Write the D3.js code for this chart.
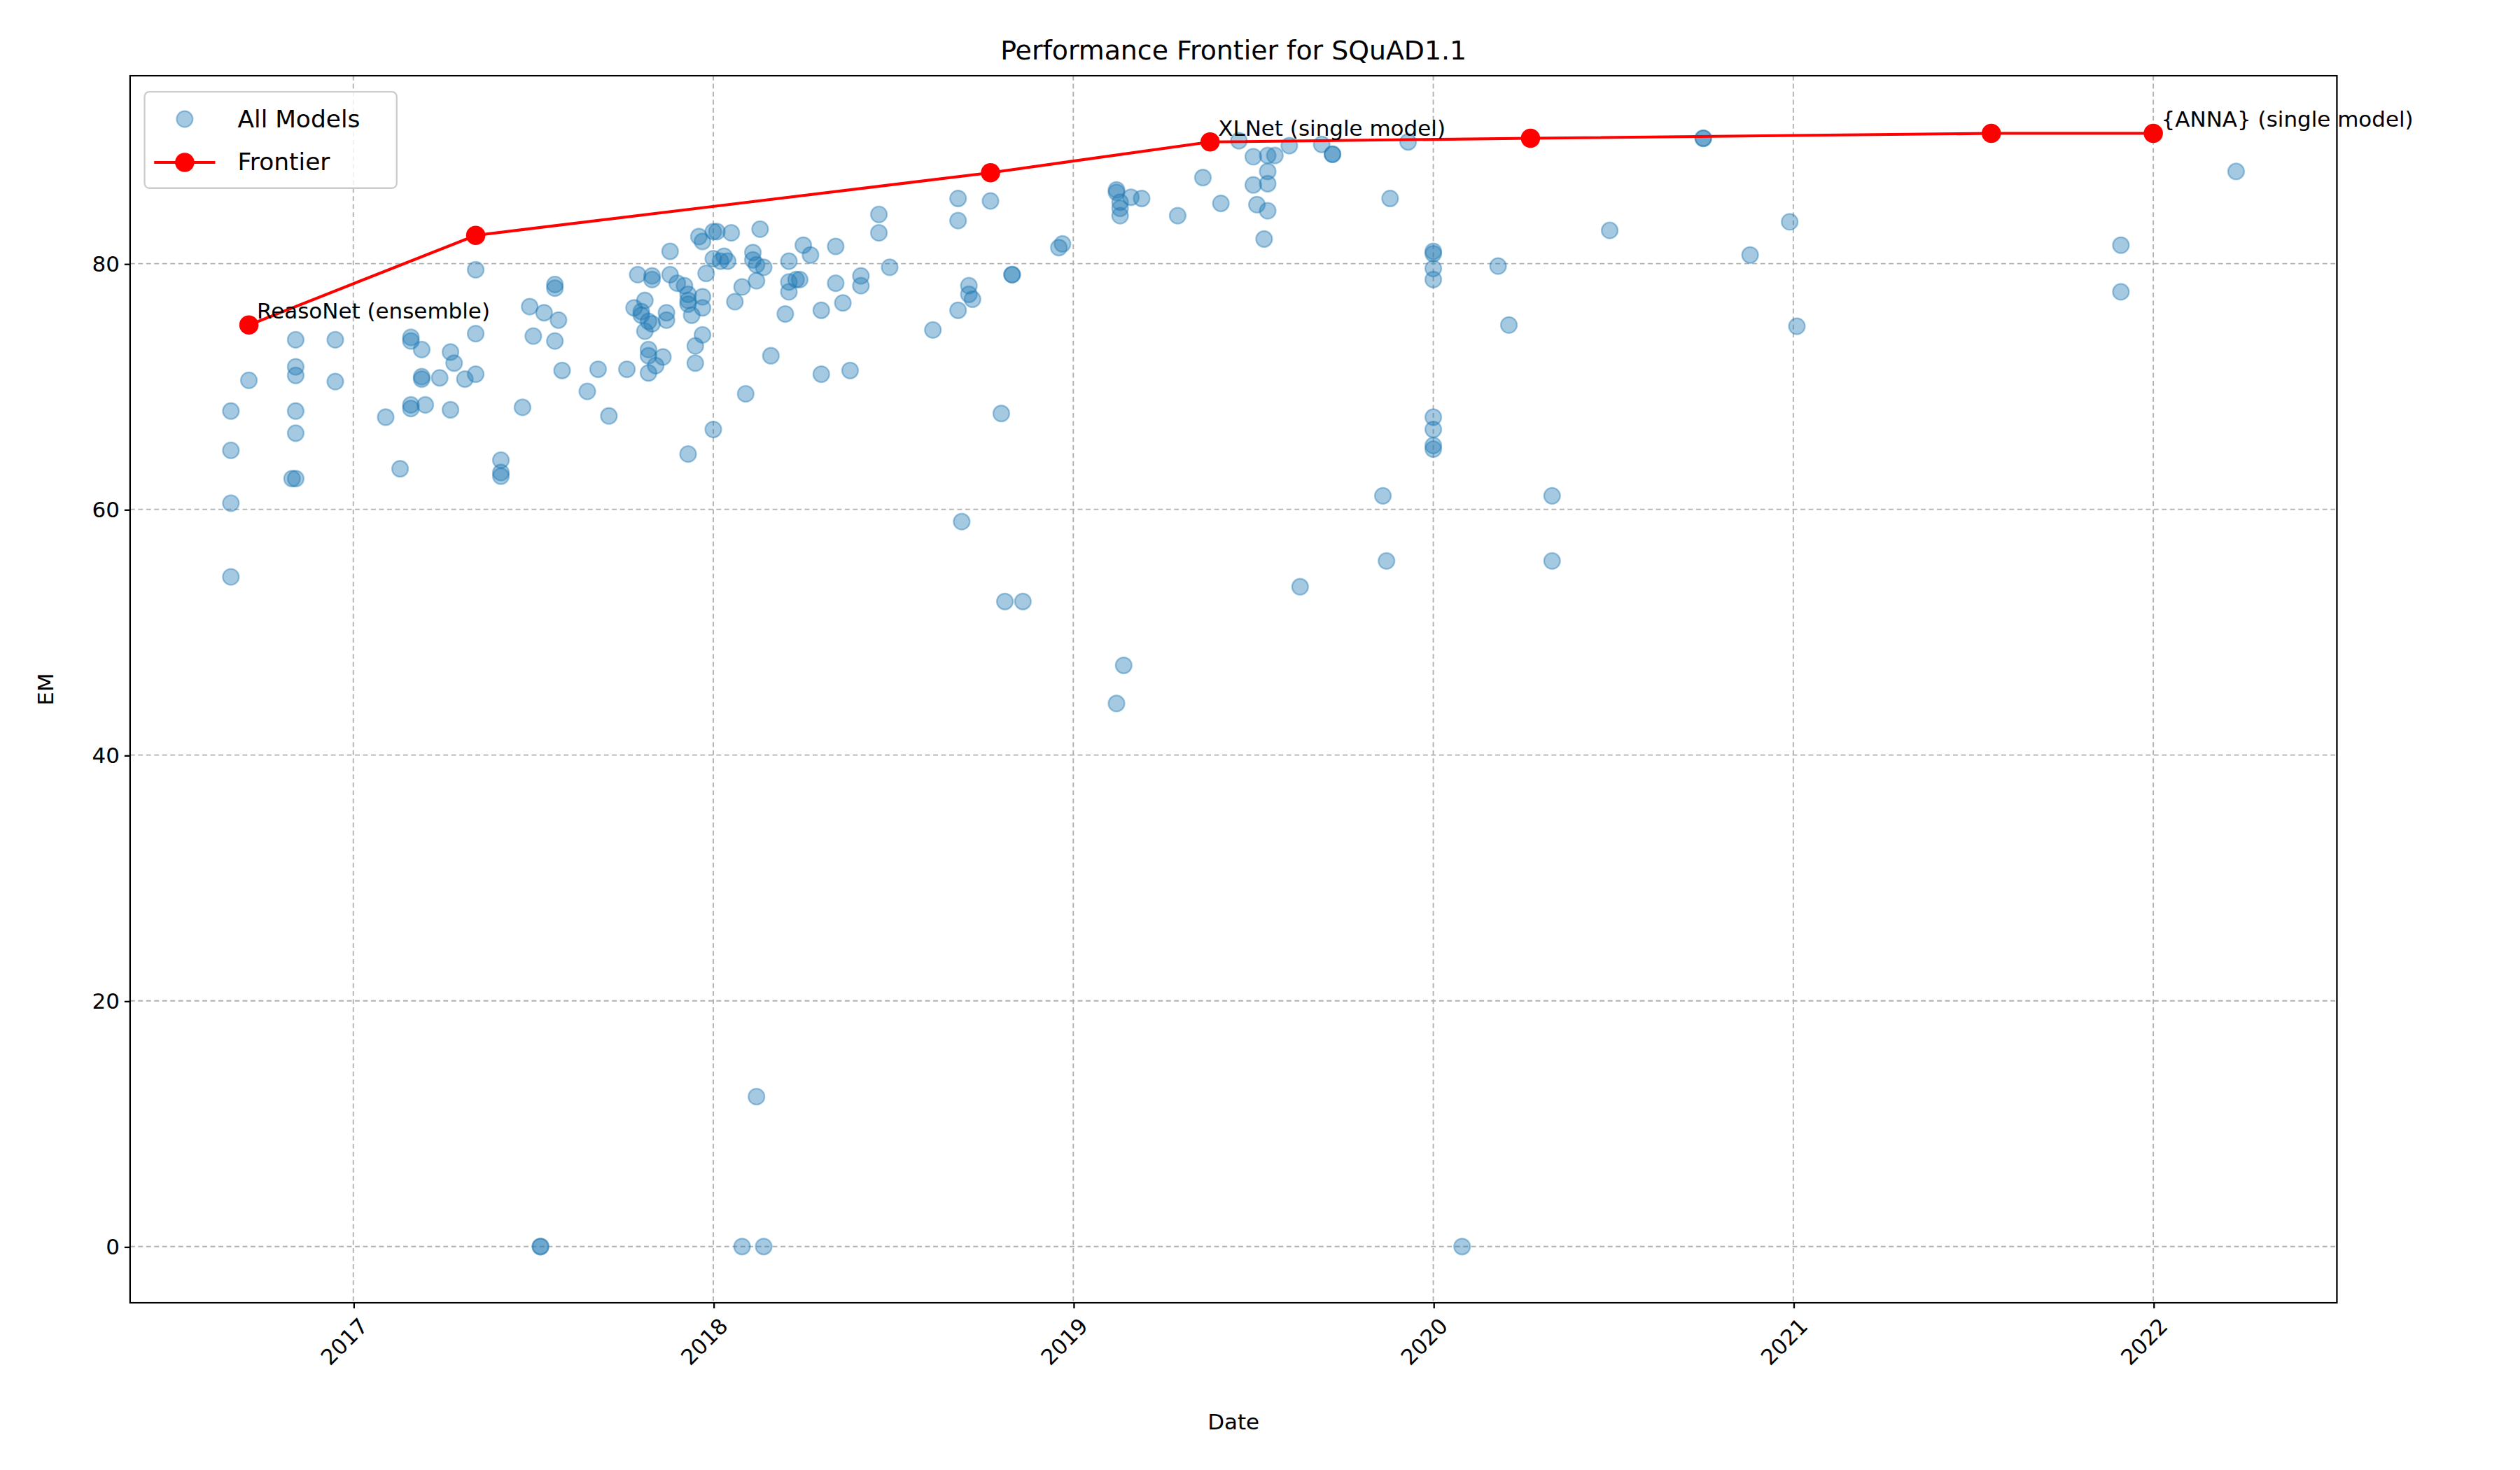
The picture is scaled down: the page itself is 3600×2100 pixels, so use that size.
<!DOCTYPE html>
<html><head><meta charset="utf-8">
<script src="https://cdn.jsdelivr.net/npm/d3@7"></script>
<style>
body{margin:0;background:#fff}
text{font-family:"DejaVu Sans",sans-serif;fill:#000}
</style></head><body>
<svg id="c" width="3600" height="2100" viewBox="0 0 1569 915"></svg>
<script>
// all models: decimal year, EM
var modelDates = [2016.66,2016.66,2016.66,2016.66,2016.71,
 2016.84,2016.84,2016.84,2016.84,2016.84,2016.83,2016.84,2016.95,2016.95,
 2017.09,2017.13,2017.16,2017.16,2017.16,2017.16,2017.19,2017.19,2017.19,2017.20,2017.24,2017.27,2017.28,2017.27,2017.31,2017.34,2017.34,2017.34,2017.41,2017.41,2017.41,2017.47,2017.49,2017.50,2017.53,2017.56,2017.56,2017.56,2017.57,2017.58,2017.52,2017.52,
 2017.65,2017.68,2017.71,2017.76,2017.78,2017.79,2017.80,2017.80,2017.81,2017.81,2017.82,2017.82,2017.82,2017.82,2017.83,2017.83,2017.83,2017.84,2017.86,2017.87,2017.87,2017.88,2017.88,2017.90,2017.92,2017.93,2017.93,2017.93,2017.94,2017.95,2017.95,2017.93,2017.96,2017.97,2017.97,2017.97,2017.97,2017.98,2018.00,2018.00,2018.01,2018.00,2018.02,2018.03,2018.04,2018.05,2018.06,2018.08,2018.09,2018.11,2018.11,2018.12,2018.12,2018.13,2018.14,2018.16,2018.12,2018.08,2018.14,
 2018.20,2018.21,2018.21,2018.21,2018.23,2018.24,2018.25,2018.27,2018.30,2018.30,2018.34,2018.34,2018.36,2018.38,2018.41,2018.41,2018.46,2018.46,2018.49,2018.61,2018.68,2018.68,2018.68,2018.69,2018.71,2018.71,2018.72,2018.77,2018.80,2018.81,2018.86,2018.83,2018.83,2018.96,2018.97,
 2019.12,2019.12,2019.13,2019.13,2019.13,2019.12,2019.14,2019.16,2019.19,2019.29,2019.36,2019.41,2019.46,2019.50,2019.50,2019.51,2019.53,2019.54,2019.54,2019.54,2019.54,2019.56,2019.60,2019.63,2019.69,2019.72,2019.72,2019.86,2019.87,2019.88,2019.93,
 2020.00,2020.00,2020.00,2020.00,2020.00,2020.00,2020.00,2020.00,2020.08,2020.18,2020.21,2020.33,2020.33,2020.49,2020.75,2020.75,2020.88,2020.99,2021.01,2021.91,2021.91,2022.23];
var modelEM = [68,64.8,60.5,54.5,70.5,
 73.8,71.6,70.9,68,66.2,62.5,62.5,73.8,70.4,
 67.5,63.3,74,73.7,68.5,68.2,73,70.8,70.6,68.5,70.7,72.8,71.9,68.1,70.6,79.5,74.3,71,64,63,62.7,68.3,76.5,74.1,76,78,78.3,73.7,75.4,71.3,0,0,
 69.6,71.4,67.6,71.4,76.4,79.1,76.1,75.8,77,74.5,75.3,73,71.1,72.5,79,78.7,75.1,71.7,72.4,76,75.4,81,79.1,78.4,78.2,77,77.5,76.7,75.8,73.3,71.9,64.5,82.2,81.8,77.3,76.4,74.2,79.2,80.4,82.6,82.6,66.5,80.2,80.6,80.2,82.5,76.9,78.1,69.4,80.3,80.9,79.9,78.6,82.8,79.7,72.5,12.2,0,0,
 75.9,77.7,78.5,80.2,78.7,78.7,81.5,80.7,71,76.2,81.4,78.4,76.8,71.3,79,78.2,84,82.5,79.7,74.6,85.3,83.5,76.2,59,78.2,77.5,77.1,85.1,67.8,52.5,52.5,79.1,79.1,81.3,81.6,
 86,85.8,85,84.5,83.9,44.2,47.3,85.4,85.3,83.9,87,84.9,90,88.7,86.4,84.8,82,88.8,87.5,86.5,84.3,88.8,89.6,53.7,89.7,88.9,88.9,61.1,55.8,85.3,89.9,
 81,80.8,79.6,78.7,67.5,66.5,65.2,64.9,0,79.8,75,61.1,55.8,82.7,90.2,90.2,80.7,83.4,74.9,81.5,77.7,87.5];

var frontierDates = [2016.71,2017.34,2018.77,2019.38,2020.27,2021.55,2022.00];
var frontierEM = [75,82.3,87.4,89.9,90.2,90.6,90.6];
var frontierLabels = ["ReasoNet (ensemble)","","","XLNet (single model)","","","{ANNA} (single model)"];

var xTicks = [2017,2018,2019,2020,2021,2022];
var yTicks = [0,20,40,60,80];

var L=81,R=1455,T=47,B=811;
var svg=d3.select("#c");
var x=d3.scaleLinear().domain([2016.38,2022.51]).range([L,R]);
var y=d3.scaleLinear().domain([0,80]).range([776,164]);

// grid
svg.append("g").selectAll("line").data(xTicks).join("line")
 .attr("x1",d=>x(d)).attr("x2",d=>x(d)).attr("y1",T).attr("y2",B)
 .attr("stroke","#b0b0b0").attr("stroke-width",0.8).attr("stroke-dasharray","3,2");
svg.append("g").selectAll("line").data(yTicks).join("line")
 .attr("x1",L).attr("x2",R).attr("y1",d=>y(d)).attr("y2",d=>y(d))
 .attr("stroke","#b0b0b0").attr("stroke-width",0.8).attr("stroke-dasharray","3,2");

// axes
var xa=svg.append("g").attr("transform","translate(0,"+B+")")
 .call(d3.axisBottom(x).tickValues(xTicks).tickFormat(d3.format("d")).tickSizeOuter(0).tickSize(3.5));
xa.selectAll("text").attr("font-size",13.5).attr("text-anchor","end")
 .attr("transform","translate(-2,4) rotate(-45)").attr("dy","0.71em").attr("dx","0");
var ya=svg.append("g").attr("transform","translate("+L+",0)")
 .call(d3.axisLeft(y).tickValues(yTicks).tickSizeOuter(0).tickSize(3.5));
ya.selectAll("text").attr("font-size",13.5);
svg.selectAll(".domain").remove();
svg.append("rect").attr("x",L).attr("y",T).attr("width",R-L).attr("height",B-T)
 .attr("fill","none").attr("stroke","#000").attr("stroke-width",1);

// points
svg.append("g").selectAll("circle").data(modelDates).join("circle")
 .attr("cx",d=>x(d)).attr("cy",(d,i)=>y(modelEM[i])).attr("r",5)
 .attr("fill","#1f77b4").attr("fill-opacity",0.4)
 .attr("stroke","#1f77b4").attr("stroke-opacity",0.4).attr("stroke-width",1);

// frontier
var fr=frontierDates.map((d,i)=>[d,frontierEM[i]]);
svg.append("path").datum(fr).attr("d",d3.line().x(d=>x(d[0])).y(d=>y(d[1])))
 .attr("fill","none").attr("stroke","red").attr("stroke-width",1.8);
svg.append("g").selectAll("circle").data(fr).join("circle")
 .attr("cx",d=>x(d[0])).attr("cy",d=>y(d[1])).attr("r",6).attr("fill","red");
svg.append("g").selectAll("text").data(fr).join("text")
 .attr("x",d=>x(d[0])+5).attr("y",d=>y(d[1])-4).attr("font-size",13.5)
 .text((d,i)=>frontierLabels[i]);

// labels
svg.append("text").attr("x",(L+R)/2).attr("y",37).attr("text-anchor","middle").attr("font-size",16.5).text("Performance Frontier for SQuAD1.1");
svg.append("text").attr("x",(L+R)/2).attr("y",890).attr("text-anchor","middle").attr("font-size",13.5).text("Date");
svg.append("text").attr("transform","translate(33,"+((T+B)/2)+") rotate(-90)").attr("text-anchor","middle").attr("font-size",13.5).text("EM");

// legend
var lg=svg.append("g").attr("transform","translate(90,57)");
lg.append("rect").attr("width",157).attr("height",60).attr("rx",3).attr("fill","#fff").attr("fill-opacity",0.8).attr("stroke","#ccc");
lg.append("circle").attr("cx",25).attr("cy",17).attr("r",5).attr("fill","#1f77b4").attr("fill-opacity",0.4).attr("stroke","#1f77b4").attr("stroke-opacity",0.4);
lg.append("text").attr("x",58).attr("y",22).attr("font-size",15).text("All Models");
lg.append("line").attr("x1",6).attr("x2",44).attr("y1",44).attr("y2",44).attr("stroke","red").attr("stroke-width",1.8);
lg.append("circle").attr("cx",25).attr("cy",44).attr("r",6).attr("fill","red");
lg.append("text").attr("x",58).attr("y",49).attr("font-size",15).text("Frontier");
</script></body></html>
